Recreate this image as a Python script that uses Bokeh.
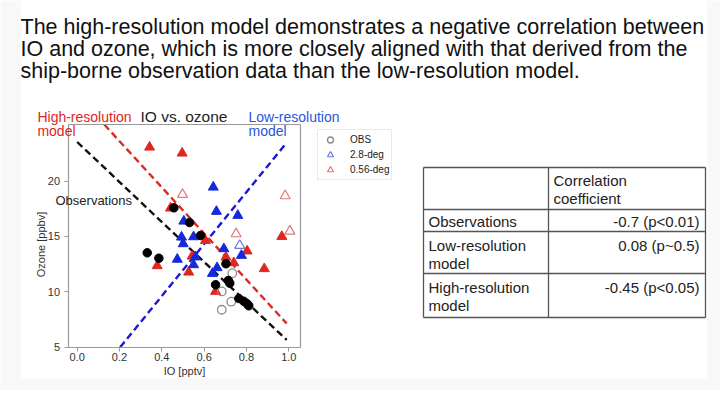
import math
from bokeh.plotting import figure
from bokeh.models import (Range1d, Label, Legend, LegendItem, FixedTicker, NumeralTickFormatter,
                          LinearAxis)
from bokeh.embed import file_html
from bokeh.resources import INLINE
from bokeh.core.properties import value

FONT = "Liberation Sans"

# ---------------- data ----------------
title_lines = [
    "The high-resolution model demonstrates a negative correlation between",
    "IO and ozone, which is more closely aligned with that derived from the",
    "ship-borne observation data than the low-resolution model.",
]

obs_filled_io = [0.331, 0.386, 0.457, 0.531, 0.583, 0.654, 0.703, 0.714, 0.721, 0.764, 0.787, 0.803, 0.811]
obs_filled_o3 = [13.52, 13.03, 17.58, 16.25, 15.08, 10.64, 12.53, 11.02, 10.78, 9.40, 9.15, 8.92, 8.74]
obs_open_io = [0.733, 0.683, 0.728, 0.683]
obs_open_o3 = [11.68, 10.03, 9.11, 8.38]

lr_filled_io = [0.643, 0.658, 0.759, 0.504, 0.493, 0.550, 0.501, 0.693, 0.776, 0.473, 0.559, 0.550, 0.661, 0.639]
lr_filled_o3 = [19.44, 17.25, 16.89, 16.37, 14.93, 14.96, 14.33, 13.88, 13.28, 12.93, 13.14, 12.44, 12.17, 11.65]
lr_open_io = [0.768]
lr_open_o3 = [14.18]

hr_filled_io = [0.342, 0.496, 0.441, 0.606, 0.543, 0.703, 0.740, 0.803, 0.378, 0.527, 0.654, 0.884, 0.967]
hr_filled_o3 = [23.05, 22.51, 17.55, 14.63, 13.21, 13.12, 12.62, 13.68, 12.35, 11.77, 10.03, 12.08, 14.99]
hr_open_io = [0.498, 0.983, 0.751, 1.005]
hr_open_o3 = [18.78, 18.66, 15.23, 15.47]

# regression lines (intercept, slope, x extent)
fit_names = ["Observations", "Low-resolution", "High-resolution"]
fit_intercept = [23.52, 0.235, 27.76]
fit_slope = [-18.05, 23.46, -20.83]
fit_x_start = [0.0, 0.203, 0.128]
fit_x_end = [0.99, 0.984, 0.99]

x_ticks = [0.0, 0.2, 0.4, 0.6, 0.8, 1.0]
y_ticks = [5, 10, 15, 20]
x_lim = (-0.043, 1.054)
y_lim = (4.98, 25.1)

legend_labels = ["OBS", "2.8-deg", "0.56-deg"]

table_header = "Correlation\ncoefficient"
table_rows = ["Observations", "Low-resolution\nmodel", "High-resolution\nmodel"]
table_values = ["-0.7 (p<0.01)", "0.08 (p~0.5)", "-0.45 (p<0.05)"]

# ---------------- colours ----------------
RED = "#e0261d"
BLUE = "#1428dc"
RED_OPEN = "#e07a78"
BLUE_OPEN = "#6a78e0"
GREY_OPEN = "#8a8a8a"
AX = "#9a9a9a"
PAGE_GREY = "#f8f8f8"

# ---------------- canvas geometry (pixels) ----------------
W, H = 720, 390
X0_PX, X_SCALE = 76.7, 211.6      # pixel of IO = 0, pixels per pptv
Y5_PX, Y_SCALE = 346.7, 11.08     # pixel of ozone = 5, pixels per ppbv

x_range = Range1d(-X0_PX / X_SCALE, (W - X0_PX) / X_SCALE)
y_range = Range1d(5 - (H - Y5_PX) / Y_SCALE, 5 + Y5_PX / Y_SCALE)

p = figure(width=W, height=H, x_range=x_range, y_range=y_range,
           output_backend="svg", toolbar_location=None, min_border=0)
p.extra_x_ranges = {"px": Range1d(0, W)}
p.extra_y_ranges = {"px": Range1d(H, 0)}
p.grid.visible = False
p.outline_line_color = None

# faint slide surround
p.quad(left=[0, 707, 0], right=[20, W, W], top=[0, 0, 378], bottom=[H, H, H],
       fill_color=PAGE_GREY, line_color=None, x_range_name="px", y_range_name="px")

# ---------------- axes (drawn at the data box) ----------------
p.xaxis.fixed_location = y_lim[0]
p.xaxis.bounds = x_lim
p.yaxis.fixed_location = x_lim[0]
p.yaxis.bounds = y_lim
p.xaxis.ticker = FixedTicker(ticks=x_ticks)
p.yaxis.ticker = FixedTicker(ticks=y_ticks)
p.xaxis.formatter = NumeralTickFormatter(format="0.0")
p.yaxis.formatter = NumeralTickFormatter(format="0")
for ax in (p.xaxis, p.yaxis):
    ax.axis_line_color = AX
    ax.axis_line_width = 1.2
    ax.major_tick_line_color = AX
    ax.minor_tick_line_color = None
    ax.major_tick_in = 0
    ax.major_tick_out = 4
    ax.major_label_text_font = FONT
    ax.major_label_text_font_size = "11px"
    ax.major_label_text_color = "#333333"
    ax.axis_label_text_font = FONT
    ax.axis_label_text_font_size = "11px"
    ax.axis_label_text_font_style = "normal"
    ax.axis_label_text_color = "#333333"
p.xaxis.axis_label = "IO [pptv]"
p.xaxis.major_label_standoff = 2
p.xaxis.axis_label_standoff = 0
p.yaxis.major_label_standoff = 4

top_ax = LinearAxis(fixed_location=y_lim[1], bounds=x_lim, ticker=FixedTicker(ticks=[]),
                    axis_line_color=AX, axis_line_width=1.2, major_tick_line_color=None,
                    minor_tick_line_color=None, major_label_text_color=None)
right_ax = LinearAxis(fixed_location=x_lim[1], bounds=y_lim, ticker=FixedTicker(ticks=[]),
                      axis_line_color=AX, axis_line_width=1.2, major_tick_line_color=None,
                      minor_tick_line_color=None, major_label_text_color=None)
p.add_layout(top_ax, "above")
p.add_layout(right_ax, "right")

# y-axis title (rotated), placed like the reference
p.add_layout(Label(x=-0.1734, y=14.27, text="Ozone [ppbv]", angle=math.pi / 2,
                   text_align="center", text_baseline="middle", text_font=FONT,
                   text_font_size="11px", text_color="#333333"))

# ---------------- regression lines ----------------
line_colors = ["#111111", "#1a1ad6", "#dd2a24"]
for a, b, x0, x1, c in zip(fit_intercept, fit_slope, fit_x_start, fit_x_end, line_colors):
    p.line([x0, x1], [a + b * x0, a + b * x1], line_color=c, line_width=2.4, line_dash="7 4")

# ---------------- points ----------------
r_hr_open = p.scatter(hr_open_io, hr_open_o3, marker="triangle", size=10, fill_color="white",
                      line_color=RED_OPEN, line_width=1.2)
r_lr_open = p.scatter(lr_open_io, lr_open_o3, marker="triangle", size=10, fill_color="white",
                      line_color=BLUE_OPEN, line_width=1.2)
p.scatter(hr_filled_io, hr_filled_o3, marker="triangle", size=10, fill_color=RED, line_color=RED)
p.scatter(lr_filled_io, lr_filled_o3, marker="triangle", size=10, fill_color=BLUE, line_color=BLUE)
r_obs_open = p.scatter(obs_open_io, obs_open_o3, marker="circle", size=8.5, fill_color=None,
                       line_color=GREY_OPEN, line_width=1.3)
p.scatter(obs_filled_io, obs_filled_o3, marker="circle", size=8.5, fill_color="black", line_color="black")

legend = Legend(items=[LegendItem(label=legend_labels[0], renderers=[r_obs_open]),
                       LegendItem(label=legend_labels[1], renderers=[r_lr_open]),
                       LegendItem(label=legend_labels[2], renderers=[r_hr_open])],
                location=(317, H - 180), orientation="vertical",
                label_text_font=FONT, label_text_font_size="10px", label_text_color="#222222",
                glyph_width=20, glyph_height=15, label_height=15, label_standoff=10,
                padding=2, spacing=0, margin=0,
                border_line_color="#d4d4d4", border_line_width=1, background_fill_color="white")
p.add_layout(legend)

# ---------------- plot annotations (data units) ----------------
notes = [
    ("High-resolution", -0.188, 25.78, RED, "14px"),
    ("model", -0.188, 24.47, RED, "14px"),
    ("IO vs. ozone", 0.299, 25.78, "#222222", "15.5px"),
    ("Low-resolution", 0.8095, 25.78, "#2a55dc", "14px"),
    ("model", 0.8095, 24.47, "#2a55dc", "14px"),
    ("Observations", -0.1026, 18.24, "#222222", "13px"),
]
for txt, x, y, c, fs in notes:
    p.add_layout(Label(x=x, y=y, text=txt, text_color=c, text_font=FONT, text_font_size=fs,
                       text_baseline="middle", text_align="left"))

# ---------------- headline (pixel units) ----------------
p.text(x=[20] * len(title_lines), y=[26 + 22 * i for i in range(len(title_lines))], text=title_lines,
       x_range_name="px", y_range_name="px",
       text_font=value(FONT), text_font_size="21.5px", text_baseline="alphabetic", text_color="#111111")

# ---------------- table (pixel units) ----------------
col_x = [423, 548, 705]
row_y = [167, 209, 231, 273, 317]
first_line_offset = [12.7, 11.7, 14.0, 14.3]
TL = "#555555"
p.segment(x0=[col_x[0]] * len(row_y), y0=row_y, x1=[col_x[-1]] * len(row_y), y1=row_y,
          line_color=TL, line_width=1.3, x_range_name="px", y_range_name="px")
p.segment(x0=col_x, y0=[row_y[0]] * len(col_x), x1=col_x, y1=[row_y[-1]] * len(col_x),
          line_color=TL, line_width=1.3, x_range_name="px", y_range_name="px")

PITCH = 18
tx, ty, tt, ta = [], [], [], []
for i, ln in enumerate(table_header.split("\n")):
    tx.append(col_x[1] + 5); ty.append(row_y[0] + first_line_offset[0] + PITCH * i); tt.append(ln); ta.append("left")
for r, (lab, val) in enumerate(zip(table_rows, table_values)):
    top = row_y[r + 1] + first_line_offset[r + 1]
    for i, ln in enumerate(lab.split("\n")):
        tx.append(col_x[0] + 5); ty.append(top + PITCH * i); tt.append(ln); ta.append("left")
    tx.append(col_x[2] - 6); ty.append(top); tt.append(val); ta.append("right")
p.text(x=tx, y=ty, text=tt, text_align=ta, text_baseline="middle",
       x_range_name="px", y_range_name="px",
       text_font=value(FONT), text_font_size="15px", text_color="#222222")

open("out.html", "w").write(file_html(p, INLINE))
